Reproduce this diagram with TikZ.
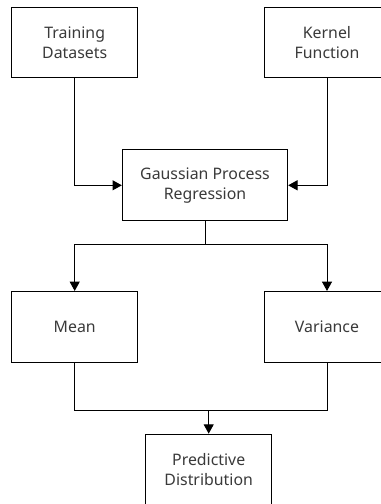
\documentclass[tikz,border=0pt]{standalone}
\usepackage{fontspec}
\setmainfont{Noto Sans}
\usetikzlibrary{arrows.meta}
\definecolor{txt}{HTML}{3A3A3A}
\begin{document}
\begin{tikzpicture}[x=0.75pt,y=-0.75pt,
  box/.style={draw=black, line width=0.75pt, rectangle, minimum width=94.5pt, minimum height=53pt,
    inner sep=0pt, align=center, text=txt, font=\fontsize{11.9}{15}\selectfont},
  conn/.style={draw=black, line width=0.75pt},
  arr/.style={conn, -{Triangle[length=7pt,width=7.5pt]}}]
\useasboundingbox (0,0) rectangle (381,504);
\clip (0,0) rectangle (381,504);
\fill[white] (0,0) rectangle (381,504);
\node[box] (td) at (74.7,42.5) {Training\\Datasets};
\node[box] (kf) at (327,42.5) {Kernel\\Function};
\node[box, minimum width=124pt] (gpr) at (205,185.3) {Gaussian Process\\Regression};
\node[box] (mean) at (74.7,326.8) {Mean};
\node[box] (var) at (327,326.8) {Variance};
\node[box] (pd) at (208.7,469.5) {Predictive\\Distribution};
\coordinate (s1) at (205,244);
\coordinate (s2) at (208.7,410);
\draw[arr] (td.south) |- (gpr.west);
\draw[arr] (kf.south) |- (gpr.east);
\draw[conn] (gpr.south) -- (s1);
\draw[arr] (s1) -| (mean.north);
\draw[arr] (s1) -| (var.north);
\draw[conn] (mean.south) |- (s2);
\draw[conn] (var.south) |- (s2);
\draw[arr] (s2) -- (pd.north);
\end{tikzpicture}
\end{document}
